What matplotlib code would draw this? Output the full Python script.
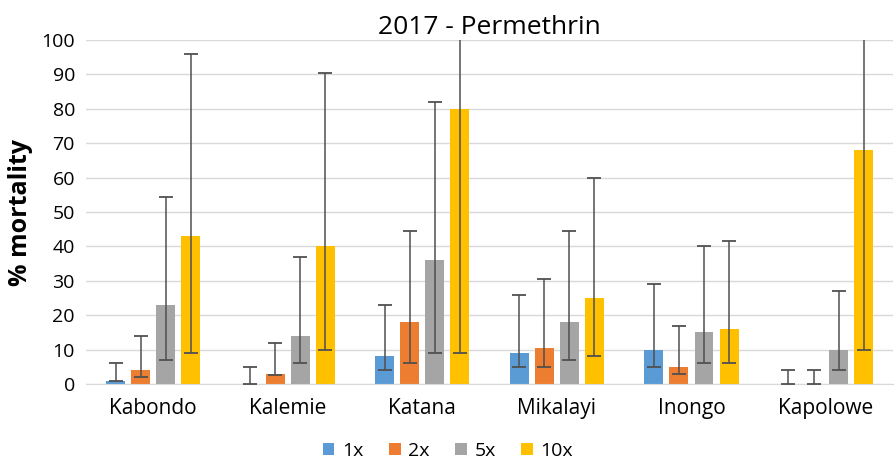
import numpy as np
import matplotlib
matplotlib.use('Agg')
import matplotlib.pyplot as plt

plt.rcParams['font.family'] = ['Open Sans', 'DejaVu Sans']

sites = ['Kabondo', 'Kalemie', 'Katana', 'Mikalayi', 'Inongo', 'Kapolowe']
doses = ['1x', '2x', '5x', '10x']
colors = ['#5B9BD5', '#ED7D31', '#A5A5A5', '#FFC000']

# mortality (%) per dose, one value per site
mort_1x = [1, 0, 8, 9, 10, 0]
mort_2x = [4, 3, 18, 10.5, 5, 0]
mort_5x = [23, 14, 36, 18, 15, 10]
mort_10x = [43, 40, 80, 25, 16, 68]

# lower / upper confidence limits
low_1x = [1, 0, 4, 5, 5, 0]
up_1x = [6, 5, 23, 26, 29, 4]
low_2x = [2, 2.5, 6, 5, 3, 0]
up_2x = [14, 12, 44.5, 30.5, 17, 4]
low_5x = [7, 6, 9, 7, 6, 4]
up_5x = [54.5, 37, 82, 44.5, 40, 27]
low_10x = [9, 10, 9, 8, 6, 10]
up_10x = [96, 90.5, 120, 60, 41.5, 120]

values = [mort_1x, mort_2x, mort_5x, mort_10x]
lows = [low_1x, low_2x, low_5x, low_10x]
ups = [up_1x, up_2x, up_5x, up_10x]

fig = plt.figure(figsize=(8.96, 4.66), dpi=100)
ax = fig.add_axes([0.096, 0.176, 0.901, 0.738])

x = np.arange(len(sites))
w = 0.141
step = 0.186
for i in range(4):
    pos = x + (i - 1.5) * step
    v = np.array(values[i])
    lo = np.array(lows[i])
    hi = np.array(ups[i])
    ax.bar(pos, v, width=w, color=colors[i], label=doses[i], zorder=2)
    ax.errorbar(pos, v, yerr=[v - lo, hi - v], fmt='none', ecolor='#505050',
                elinewidth=1.1, capsize=5, capthick=1.3, zorder=3)

ax.set_xlim(-0.5, len(sites) - 0.5)
ax.set_ylim(0, 100)
ax.set_yticks(np.arange(0, 101, 10))
ax.set_xticks(x)
ax.set_xticklabels(sites, fontsize=15)
ax.tick_params(axis='y', labelsize=14, length=0, pad=8)
ax.tick_params(axis='x', length=0, pad=10)
ax.yaxis.grid(True, color='#d9d9d9', linewidth=1)
ax.set_axisbelow(True)
for s in ['top', 'right', 'left']:
    ax.spines[s].set_visible(False)
ax.spines['bottom'].set_color('#d9d9d9')

ax.set_ylabel('% mortality', fontsize=18, fontweight='bold', labelpad=6)
ax.set_title('2017 - Permethrin', fontsize=19, pad=4)

fig.legend(loc='lower center', bbox_to_anchor=(0.5, -0.025), ncol=4, frameon=False,
           fontsize=14, handlelength=0.6, handleheight=0.6, columnspacing=1.3,
           handletextpad=0.4)

plt.savefig('out.png', dpi=100)
